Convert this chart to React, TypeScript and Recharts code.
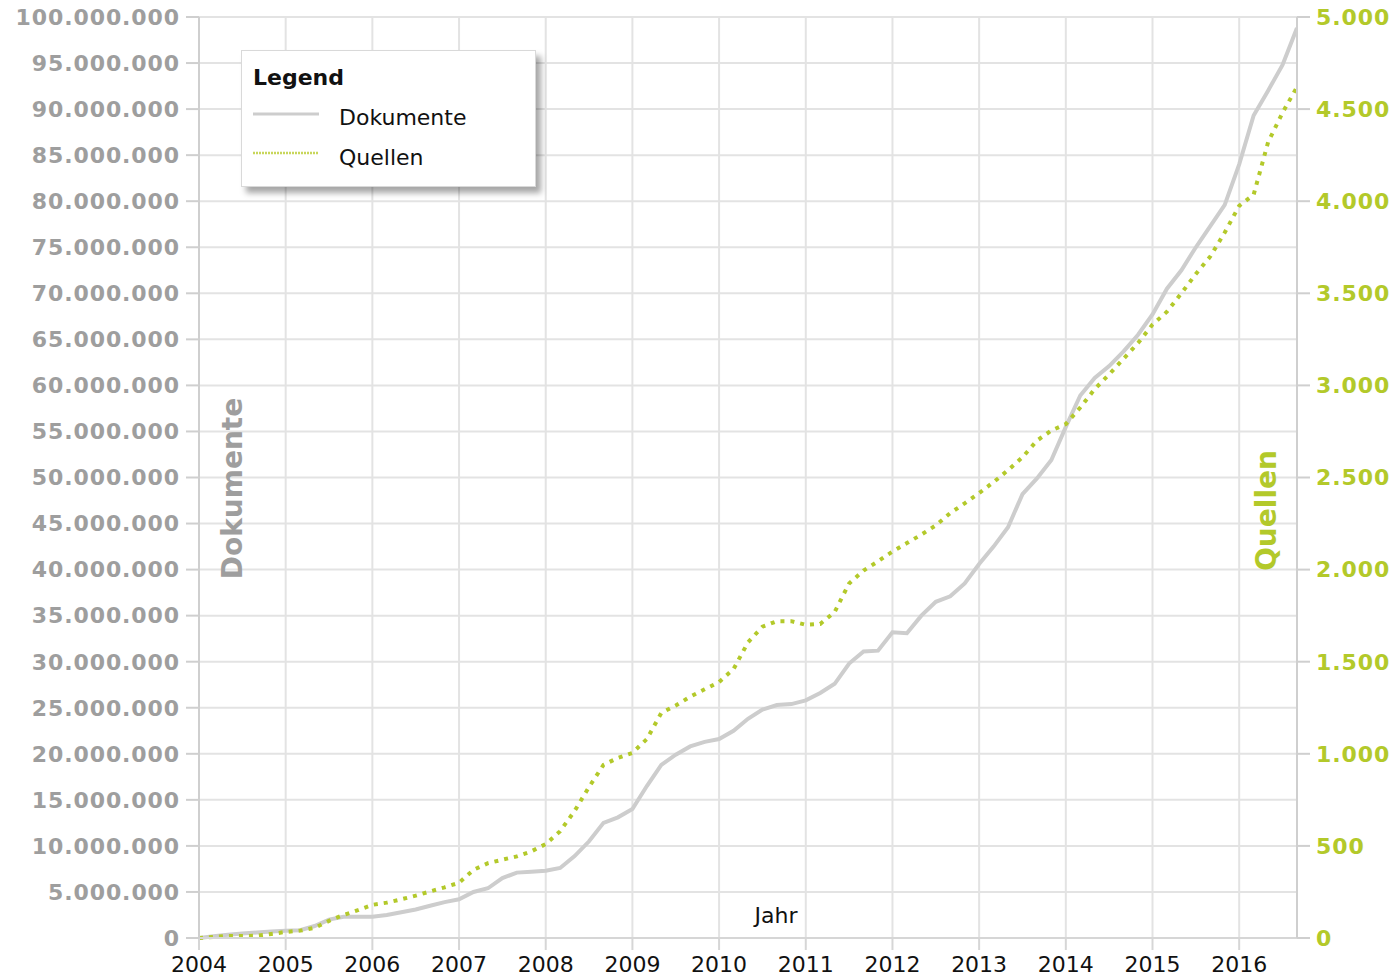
import React from 'react';
import { LineChart, Line, XAxis, YAxis, CartesianGrid, Legend } from 'recharts';

// Bi-monthly periods from Jan 2004 to ~Sep 2016 (fractional years)
const periods: number[] = Array.from({ length: 77 }, (_, i) => 2004 + i / 6);

// Dokumente in millions
const dokumenteMio: number[] = [
  0, 0.2, 0.35, 0.5, 0.6, 0.7, 0.8, 0.85, 1.3, 2.0,
  2.3, 2.3, 2.3, 2.5, 2.8, 3.1, 3.5, 3.9, 4.2, 5.0,
  5.4, 6.5, 7.1, 7.2, 7.3, 7.6, 8.9, 10.5, 12.5, 13.1,
  14.0, 16.5, 18.8, 19.9, 20.8, 21.3, 21.6, 22.5, 23.8, 24.8,
  25.3, 25.4, 25.8, 26.6, 27.6, 29.8, 31.1, 31.2, 33.2, 33.1,
  35.0, 36.5, 37.1, 38.5, 40.6, 42.5, 44.6, 48.2, 49.9, 51.9,
  55.5, 58.9, 60.8, 62.1, 63.7, 65.5, 67.7, 70.5, 72.5, 75.0,
  77.3, 79.6, 84.0, 89.3, 92.0, 94.8, 98.8,
];

// Quellen
const quellen: number[] = [
  0, 6, 11, 11, 12, 22, 33, 40, 55, 93,
  125, 151, 180, 192, 210, 230, 253, 275, 300, 370,
  406, 425, 443, 470, 510, 580, 690, 820, 940, 978,
  1005, 1080, 1222, 1262, 1310, 1350, 1390, 1460, 1605, 1690,
  1720, 1720, 1700, 1705, 1770, 1925, 1995, 2045, 2098, 2144,
  2190, 2240, 2307, 2360, 2415, 2475, 2540, 2610, 2700, 2755,
  2790, 2880, 2980, 3060, 3145, 3230, 3330, 3400, 3500, 3605,
  3700, 3830, 3975, 4035, 4320, 4480, 4620,
];

const yearTicks: number[] = [2004, 2005, 2006, 2007, 2008, 2009, 2010, 2011, 2012, 2013, 2014, 2015, 2016];
const leftTicks: number[] = [0, 5e6, 10e6, 15e6, 20e6, 25e6, 30e6, 35e6, 40e6, 45e6, 50e6, 55e6, 60e6, 65e6, 70e6, 75e6, 80e6, 85e6, 90e6, 95e6, 100e6];
const rightTicks: number[] = [0, 500, 1000, 1500, 2000, 2500, 3000, 3500, 4000, 4500, 5000];

const data = periods.map((p, i) => ({
  t: p,
  dok: dokumenteMio[i] * 1e6,
  quellen: quellen[i],
}));

const GRAY = '#cdcdcd';
const GREEN = '#b3c92a';
const FONT = '"DejaVu Sans", Verdana, sans-serif';

const fmt = (v: number) => String(Math.round(v)).replace(/\B(?=(\d{3})+(?!\d))/g, '.');

const LegendBox = () => (
  <div
    style={{
      width: 295,
      height: 137,
      boxSizing: 'border-box',
      background: '#fff',
      border: '1px solid #d9d9d9',
      boxShadow: '5px 6px 6px rgba(0,0,0,0.35)',
      fontFamily: FONT,
      color: '#111',
      position: 'relative',
    }}
  >
    <div style={{ position: 'absolute', left: 11, top: 12, fontSize: 22, fontWeight: 'bold', lineHeight: '30px' }}>Legend</div>
    <svg style={{ position: 'absolute', left: 11, top: 60 }} width={66} height={6}>
      <line x1={0} y1={3} x2={66} y2={3} stroke={GRAY} strokeWidth={3} />
    </svg>
    <div style={{ position: 'absolute', left: 97, top: 52, fontSize: 22, lineHeight: '30px' }}>Dokumente</div>
    <svg style={{ position: 'absolute', left: 11, top: 99 }} width={66} height={6}>
      <line x1={0} y1={3} x2={66} y2={3} stroke="#c8d65a" strokeWidth={2.5} strokeDasharray="2 1" />
    </svg>
    <div style={{ position: 'absolute', left: 97, top: 92, fontSize: 22, lineHeight: '30px' }}>Quellen</div>
  </div>
);

const LeftLabel = (props: any) => {
  const vb = props.viewBox || {};
  const x = vb.x + vb.width + 43;
  const y = vb.y + vb.height / 2 + 11;
  return (
    <text x={x} y={y} transform={`rotate(-90, ${x}, ${y})`} textAnchor="middle" fill="#9e9e9e" fontSize={28} fontWeight="bold" fontFamily={FONT}>
      Dokumente
    </text>
  );
};

const RightLabel = (props: any) => {
  const vb = props.viewBox || {};
  const x = vb.x - 21;
  const y = vb.y + vb.height / 2 + 33;
  return (
    <text x={x} y={y} transform={`rotate(-90, ${x}, ${y})`} textAnchor="middle" fill={GREEN} fontSize={28} fontWeight="bold" fontFamily={FONT}>
      Quellen
    </text>
  );
};

const XLabel = (props: any) => {
  const vb = props.viewBox || {};
  const x = vb.x + vb.width / 2 + 28;
  const y = vb.y - 15;
  return (
    <text x={x} y={y} textAnchor="middle" fill="#111" fontSize={22} fontFamily={FONT}>
      Jahr
    </text>
  );
};

export default function App() {
  return (
    <div style={{ position: 'absolute', left: 0, top: 0, background: '#fff' }}>
      <LineChart width={1393} height={979} data={data} margin={{ top: 17, right: 0, bottom: 0, left: 0 }}>
        <CartesianGrid yAxisId="left" stroke="#e3e3e3" strokeWidth={2} />
        <XAxis
          dataKey="t"
          type="number"
          domain={[2004, 2016.667]}
          ticks={yearTicks}
          allowDataOverflow
          height={41}
          tickSize={12}
          tickMargin={6}
          stroke="#d6d6d6"
          strokeWidth={2}
          tick={{ fill: '#111', fontSize: 22, fontFamily: FONT }}
          label={<XLabel />}
        />
        <YAxis
          yAxisId="left"
          orientation="left"
          width={199}
          domain={[0, 100e6]}
          ticks={leftTicks}
          tickFormatter={fmt}
          tickSize={13}
          tickMargin={6}
          stroke="#cfcfcf"
          strokeWidth={2}
          tick={{ fill: '#9e9e9e', fontSize: 22, fontWeight: 'bold', fontFamily: FONT, letterSpacing: 0.9 }}
          label={<LeftLabel />}
        />
        <YAxis
          yAxisId="right"
          orientation="right"
          width={96}
          domain={[0, 5000]}
          ticks={rightTicks}
          tickFormatter={fmt}
          tickSize={13}
          tickMargin={6}
          stroke="#cfcfcf"
          strokeWidth={2}
          tick={{ fill: GREEN, fontSize: 22, fontWeight: 'bold', fontFamily: FONT, letterSpacing: 0.9 }}
          label={<RightLabel />}
        />
        <Legend
          layout="horizontal"
          verticalAlign="middle"
          align="center"
          content={<LegendBox />}
          wrapperStyle={{ left: 241, top: 50, width: 295, height: 137 }}
        />
        <Line
          yAxisId="left"
          type="linear"
          dataKey="dok"
          name="Dokumente"
          stroke={GRAY}
          strokeWidth={4}
          dot={false}
          activeDot={false}
          isAnimationActive={false}
        />
        <Line
          yAxisId="right"
          type="linear"
          dataKey="quellen"
          name="Quellen"
          stroke={GREEN}
          strokeWidth={4}
          strokeDasharray="4 6"
          dot={false}
          activeDot={false}
          isAnimationActive={false}
        />
      </LineChart>
    </div>
  );
}
